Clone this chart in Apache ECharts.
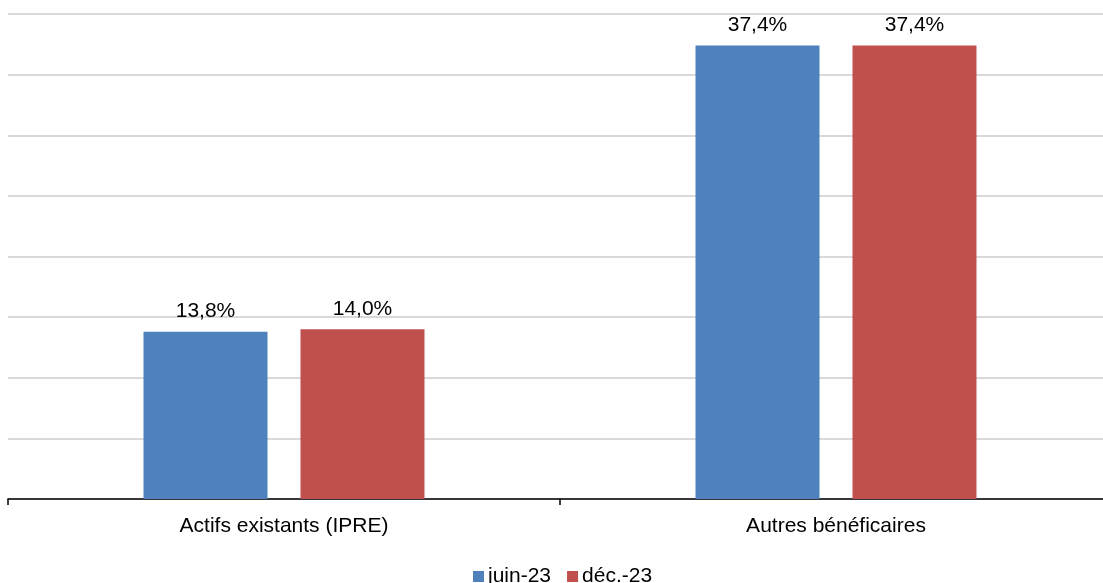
<!DOCTYPE html>
<html><head><meta charset="utf-8">
<script src="https://cdn.jsdelivr.net/npm/echarts@6/dist/echarts.min.js"></script>
<style>html,body{margin:0;padding:0;background:#fff;overflow:hidden;width:1103px;height:583px}#c{width:1112px;height:583px}</style>
</head><body><div id="c"></div>
<script>
const categories = ['Actifs existants (IPRE)', 'Autres bénéficaires'];
const seriesNames = ['juin-23', 'déc.-23'];
const juin23 = [13.8, 37.4];
const dec23 = [14.0, 37.4];
const colors = ['#4F81BD', '#C0504D'];
const fmt = p => p.value.toFixed(1).replace('.', ',') + '%';
const chart = echarts.init(document.getElementById('c'));
const lbl = {show: true, position: 'top', distance: 10, formatter: fmt, color: '#000', fontSize: 21, fontFamily: 'Liberation Sans, Arial'};
chart.setOption({
  animation: false,
  textStyle: {fontFamily: 'Liberation Sans, Arial'},
  grid: {left: 8, right: 0, top: 14, bottom: 84, containLabel: false},
  legend: {left: 468, top: 561, itemWidth: 11, itemHeight: 11, itemGap: 16, icon: 'rect',
    textStyle: {fontSize: 21, color: '#000', padding: [0,0,0,-1]}, data: seriesNames},
  xAxis: {type: 'category', data: categories,
    axisLine: {lineStyle: {color: '#000', width: 1.5}},
    axisTick: {show: true, length: 6, lineStyle: {color: '#000', width: 1.5}},
    axisLabel: {color: '#000', fontSize: 21, margin: 17}},
  yAxis: {type: 'value', min: 0, max: 40, interval: 5,
    axisLabel: {show: false}, axisLine: {show: false}, axisTick: {show: false},
    splitLine: {lineStyle: {color: '#d9d9d9', width: 2}}},
  series: [
    {name: seriesNames[0], type: 'bar', data: juin23, itemStyle: {color: colors[0]}, barWidth: 124, barGap: '26.6%', label: lbl},
    {name: seriesNames[1], type: 'bar', data: dec23, itemStyle: {color: colors[1]}, barWidth: 124, barGap: '26.6%', label: lbl}
  ]
});
</script></body></html>
